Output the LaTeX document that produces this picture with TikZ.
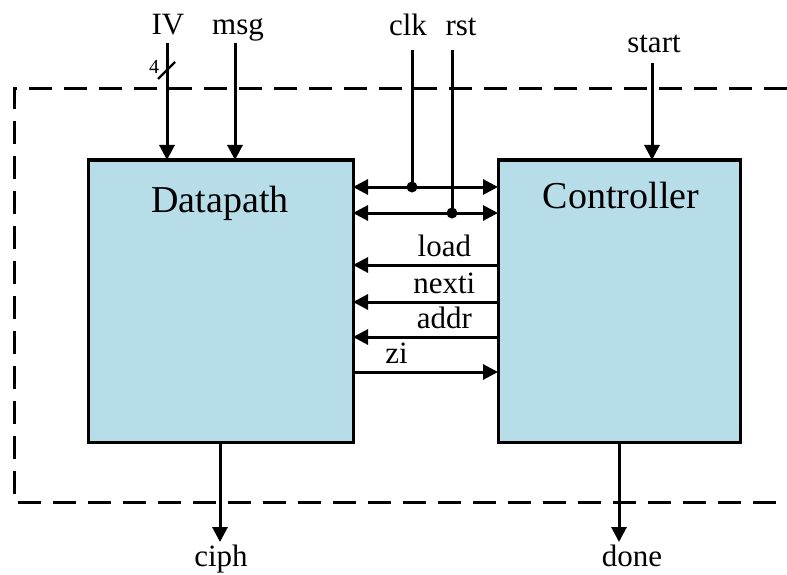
\documentclass[tikz,border=0pt]{standalone}
\usepackage{fontspec}
\setmainfont{Liberation Serif}
\usetikzlibrary{arrows.meta}
\definecolor{boxblue}{RGB}{183,221,232}

\begin{document}
\begin{tikzpicture}[x=1pt, y=-1pt,
    blk/.style={draw, fill=boxblue, line width=3pt, minimum height=282pt, outer sep=0pt, inner sep=0pt},
    ttl/.style={font=\fontsize{38}{44}\selectfont, anchor=base},
    lbl/.style={font=\fontsize{31}{36}\selectfont, inner sep=2pt},
    w/.style={line width=3pt},
    a/.style={w, -{Triangle[length=15pt, width=15pt]}},
    ab/.style={w, {Triangle[length=15pt, width=15pt]}-{Triangle[length=15pt, width=15pt]}},
    frm/.style={line width=3pt, dash pattern=on 23pt off 12pt}
]
    \useasboundingbox (0,0) rectangle (787,575);

    % outer frame, open on the right
    \draw[frm] (787,89) -- (14,89) -- (14,502) -- (787,502);

    % the two blocks
    \node[blk, minimum width=265pt] (dp) at (220.5,301) {};
    \node[blk, minimum width=242pt] (ct) at (619,301) {};
    \node[ttl] (dpt) at (220,212) {Datapath};
    \node[ttl] (ctt) at (621,208) {Controller};

    % inputs
    \node[lbl, anchor=base] (iv) at (168,35) {IV};
    \node[lbl, anchor=base] (msg) at (238,35) {msg};
    \node[lbl, anchor=base] (clk) at (408,36) {clk};
    \node[lbl, anchor=base] (rst) at (461,36) {rst};
    \node[lbl, anchor=base] (start) at (654,53) {start};
    \coordinate (ivin) at (167,43);
    \coordinate (msgin) at (235,43);
    \coordinate (startin) at (652,63);
    \draw[a] (ivin) -- (ivin |- dp.north);
    \draw[a] (msgin) -- (msgin |- dp.north);
    \draw[a] (startin) -- (startin |- ct.north);

    % bus width on IV
    \draw[line width=2.2pt] (158,79) -- (175,62);
    \node[font=\fontsize{20}{24}\selectfont, inner sep=0pt] (ivw) at (154,67) {4};

    % clock and reset
    \coordinate (clkin) at (412,50);
    \coordinate (clkdot) at (412,187);
    \coordinate (rstin) at (452,50);
    \coordinate (rstdot) at (452,213);
    \draw[ab] (dp.east |- clkdot) -- (ct.west |- clkdot);
    \draw[ab] (dp.east |- rstdot) -- (ct.west |- rstdot);
    \draw[w] (clkin) -- (clkdot);
    \draw[w] (rstin) -- (rstdot);
    \fill (clkdot) circle (5.5pt);
    \fill (rstdot) circle (5.5pt);

    % control signals
    \foreach \nm/\yy in {load/265, nexti/302, addr/337}
        \draw[a] (ct.west |- 0,\yy) -- (dp.east |- 0,\yy)
            node[lbl, pos=.37, above=5pt] {\nm};
    \draw[a] (dp.east |- 0,372) -- (ct.west |- 0,372)
        node[lbl, pos=.3, above=5pt] {zi};

    % outputs
    \node[lbl, anchor=base] (ciph) at (221,566) {ciph};
    \node[lbl, anchor=base] (done) at (632,566) {done};
    \coordinate (ciphout) at (220,542);
    \coordinate (doneout) at (619,542);
    \draw[a] (dp.south -| ciphout) -- (ciphout);
    \draw[a] (ct.south -| doneout) -- (doneout);
\end{tikzpicture}
\end{document}
